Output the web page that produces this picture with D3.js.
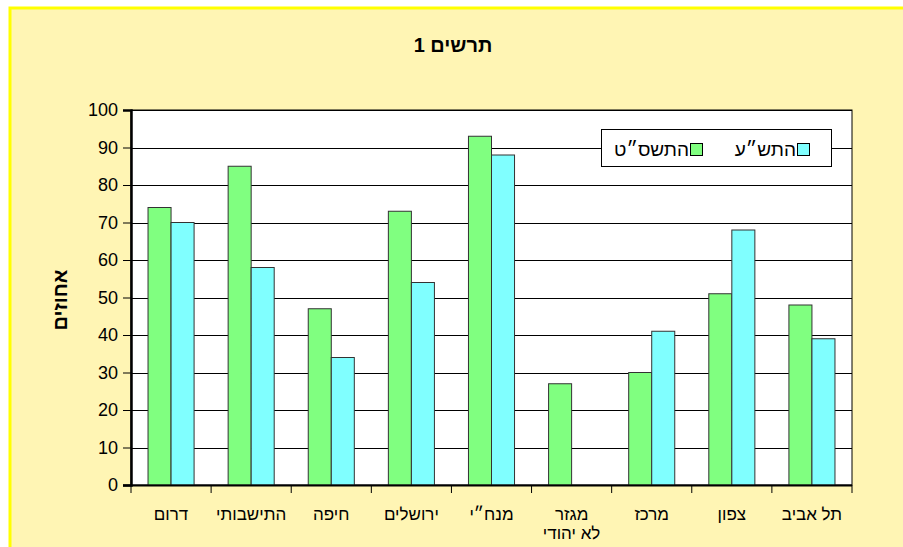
<!DOCTYPE html>
<html lang="he">
<head>
<meta charset="UTF-8">
<title>תרשים 1</title>
<style>
    body { margin: 0; background: #fff; }
    svg { display: block; font-family: "Liberation Sans", Arial, sans-serif; }
</style>
<script src="https://d3js.org/d3.v7.min.js"></script>
</head>
<body>
<svg id="chart" width="903" height="547"></svg>
<script>
    // data
    const regions = ["דרום", "התישבותי", "חיפה", "ירושלים", "מנח״י", "מגזר|לא יהודי", "מרכז", "צפון", "תל אביב"];
    const y2009 = [74, 85, 47, 73, 93, 27, 30, 51, 48];   // התשס״ט
    const y2010 = [70, 58, 34, 54, 88, null, 41, 68, 39]; // התש״ע
    const seriesNames = ["התשס״ט", "התש״ע"];
    const seriesColors = ["#80ff80", "#80ffff"];
    const yTicks = [0, 10, 20, 30, 40, 50, 60, 70, 80, 90, 100];

    const svg = d3.select("#chart");
    const W = 903, H = 547;
    const plot = { left: 131, right: 852, top: 110, bottom: 485 };

    // outer frame
    svg.append("rect").attr("x", 0).attr("y", 0).attr("width", W).attr("height", H).attr("fill", "#fff");
    svg.append("rect").attr("x", 10).attr("y", 8).attr("width", W + 20).attr("height", H + 20)
        .attr("fill", "#fff5b4").attr("stroke", "#ffff00").attr("stroke-width", 3);

    svg.append("text").attr("x", 453).attr("y", 52).attr("text-anchor", "middle")
        .attr("font-size", 20).attr("font-weight", "bold").text("תרשים 1");

    const x = d3.scaleBand().domain(regions).range([plot.left, plot.right]).padding(0);
    const bw = x.bandwidth() * 0.2875;
    const off = (x.bandwidth() - 2 * bw) / 2;
    const y = d3.scaleLinear().domain([0, 100]).range([plot.bottom, plot.top]);

    svg.append("rect").attr("x", plot.left).attr("y", plot.top)
        .attr("width", plot.right - plot.left).attr("height", plot.bottom - plot.top)
        .attr("fill", "#fff").attr("stroke", "#000").attr("stroke-width", 1);

    // gridlines
    svg.append("g").selectAll("line").data(yTicks.slice(1)).join("line")
        .attr("x1", plot.left).attr("x2", plot.right)
        .attr("y1", d => Math.round(y(d)) + 0.5).attr("y2", d => Math.round(y(d)) + 0.5)
        .attr("stroke", "#000").attr("stroke-width", 1);

    // bars
    const series = [y2009, y2010];
    series.forEach((vals, s) => {
        svg.append("g").selectAll("rect")
            .data(regions.map((r, i) => ({ r, v: vals[i] })).filter(d => d.v != null))
            .join("rect")
            .attr("x", d => x(d.r) + off + s * bw)
            .attr("y", d => y(d.v))
            .attr("width", bw)
            .attr("height", d => y(0) - y(d.v))
            .attr("fill", seriesColors[s])
            .attr("stroke", "#333").attr("stroke-width", 1);
    });

    // y axis
    const yAxis = svg.append("g").attr("transform", `translate(${plot.left},0)`)
        .call(d3.axisLeft(y).tickValues(yTicks).tickSize(8).tickPadding(5));
    yAxis.select(".domain").attr("stroke-width", 2.5);
    yAxis.selectAll("text").attr("font-size", 18).attr("fill", "#000")
        .attr("font-family", "'Liberation Sans', Arial, sans-serif");

    // x axis
    const xAxis = svg.append("g").attr("transform", `translate(0,${plot.bottom})`);
    xAxis.append("line").attr("x1", plot.left - 8).attr("x2", plot.right)
        .attr("y1", 0.5).attr("y2", 0.5).attr("stroke", "#000").attr("stroke-width", 2);
    const tickPos = regions.map(r => x(r)).concat([plot.right]);
    xAxis.selectAll(".xt").data(tickPos).join("line").attr("class", "xt")
        .attr("x1", d => d).attr("x2", d => d).attr("y1", 0).attr("y2", 8)
        .attr("stroke", "#000");
    xAxis.selectAll(".xl").data(regions).join("text").attr("class", "xl")
        .attr("x", d => x(d) + x.bandwidth() / 2)
        .attr("y", 35)
        .attr("text-anchor", "middle").attr("font-size", 17)
        .each(function (d) {
            const parts = d.split("|");
            d3.select(this).selectAll("tspan").data(parts).join("tspan")
                .attr("x", x(d) + x.bandwidth() / 2)
                .attr("dy", (p, i) => i === 0 ? 0 : 19)
                .text(p => p);
        });

    // y title
    svg.append("text").attr("transform", "translate(67,300) rotate(-90)")
        .attr("text-anchor", "middle").attr("font-size", 20).attr("font-weight", "bold")
        .text("אחוזים");

    // legend
    const lg = svg.append("g");
    lg.append("rect").attr("x", 601.5).attr("y", 129.5).attr("width", 230).attr("height", 37)
        .attr("fill", "#fff").attr("stroke", "#000");
    const legendItems = [
        { name: seriesNames[1], color: seriesColors[1], sx: 797 },
        { name: seriesNames[0], color: seriesColors[0], sx: 690 }
    ];
    legendItems.forEach(it => {
        lg.append("rect").attr("x", it.sx + 0.5).attr("y", 143.5).attr("width", 12).attr("height", 12)
            .attr("fill", it.color).attr("stroke", "#000");
        lg.append("text").attr("x", it.sx - 1).attr("y", 155.5).attr("text-anchor", "end")
            .attr("font-size", 19).text(it.name);
    });
</script>
</body>
</html>
